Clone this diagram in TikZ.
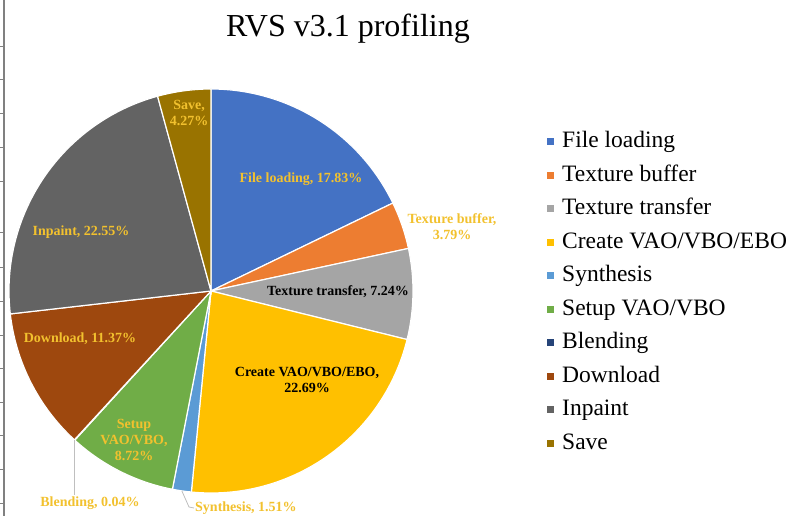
\documentclass[tikz,border=0pt]{standalone}
\usepackage{fontspec}
\setmainfont{Liberation Serif}
\usetikzlibrary{positioning}

\definecolor{fileblue}{HTML}{4472C4}
\definecolor{texorange}{HTML}{ED7D31}
\definecolor{texgray}{HTML}{A5A5A5}
\definecolor{creategold}{HTML}{FFC000}
\definecolor{synblue}{HTML}{5B9BD5}
\definecolor{setupgreen}{HTML}{70AD47}
\definecolor{blendblue}{HTML}{264478}
\definecolor{downbrown}{HTML}{9E480E}
\definecolor{inpaintgray}{HTML}{636363}
\definecolor{savegold}{HTML}{997300}
\definecolor{lblgold}{HTML}{F2C12E}
\definecolor{leadergray}{HTML}{BFBFBF}

\tikzset{
  slice/.style={draw=white, line width=1.2pt},
  lbl/.style={font=\bfseries\fontsize{14}{16}\selectfont, text=lblgold, align=center, inner sep=1pt},
  lbldark/.style={lbl, text=black},
  legbox/.style={minimum size=7pt, inner sep=0pt},
  legtxt/.style={font=\fontsize{23.5}{26}\selectfont, anchor=base west, inner sep=0pt},
  leader/.style={draw=leadergray, line width=0.8pt}
}

\begin{document}
\begin{tikzpicture}[x=1pt, y=1pt]
    \useasboundingbox (0,0) rectangle (801,516);
    % left axis from the neighbouring chart
    \draw[gray, line width=1.3pt] (4,0) -- (4,516);
    \foreach \t in {47,80,114,148,182,233,268,302,336,369,403,436,470,504}
        \draw[gray, line width=1pt] (0,516-\t) -- (4,516-\t);

    \node[font=\fontsize{32}{36}\selectfont, anchor=base] (title) at (348,479) {RVS v3.1 profiling};

    % pie, clockwise from 12 o'clock
    \coordinate (ctr) at (211,225);
    \foreach \s/\e/\c in {90/25.81/fileblue, 25.81/12.17/texorange, 12.17/-13.9/texgray,
        -13.9/-95.58/creategold, -95.58/-101.02/synblue, -101.02/-132.41/setupgreen,
        -132.41/-132.55/blendblue, -132.55/-173.48/downbrown, -173.48/-254.66/inpaintgray,
        -254.66/-270/savegold}
        \fill[\c, slice] (ctr) -- ++(\s:202) arc[start angle=\s, end angle=\e, radius=202] -- cycle;

    % slice labels
    \node[lbl] (save) at (189,403) {Save,\\4.27\%};
    \node[lbl] (file) at (301,337) {File loading, 17.83\%};
    \node[lbl] (texbuf) at (452,289) {Texture buffer,\\3.79\%};
    \node[lbldark] (textr) at (338,224) {Texture transfer, 7.24\%};
    \node[lbldark] (create) at (307,136) {Create VAO/VBO/EBO,\\22.69\%};
    \node[lbl] (setup) at (134,76) {Setup\\VAO/VBO,\\8.72\%};
    \node[lbl] (down) at (80,177) {Download, 11.37\%};
    \node[lbl] (inpaint) at (81,284) {Inpaint, 22.55\%};
    \node[lbl] (blend) at (90,13) {Blending, 0.04\%};
    \node[lbl, anchor=west] (syn) at (194,8) {Synthesis, 1.51\%};

    % leader lines
    \path (ctr) ++(-132.48:202) coordinate (blendRim);
    \path (ctr) ++(-98.3:202) coordinate (synRim);
    \coordinate (synKnee) at (189,9);
    \draw[leader] (blendRim) -- (blendRim |- blend.north);
    \draw[leader] (synRim) -- (synKnee) -- (syn.west);

    % legend
    \foreach \i/\c/\txt in {0/fileblue/{File loading}, 1/texorange/{Texture buffer},
        2/texgray/{Texture transfer}, 3/creategold/{Create VAO/VBO/EBO}, 4/synblue/{Synthesis},
        5/setupgreen/{Setup VAO/VBO}, 6/blendblue/{Blending}, 7/downbrown/{Download},
        8/inpaintgray/{Inpaint}, 9/savegold/{Save}} {
        \node[legbox, fill=\c] (key\i) at (550.5,374-33.5*\i) {};
        \node[legtxt] (leg\i) at (562,368-33.5*\i) {\txt};
    }
\end{tikzpicture}
\end{document}
